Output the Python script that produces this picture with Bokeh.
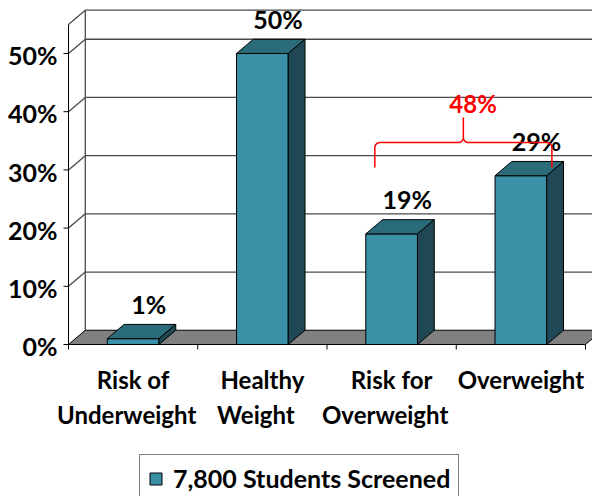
import numpy as np
from bokeh.plotting import figure
from bokeh.models import Range1d, Legend, LegendItem
from bokeh.core.properties import value
from bokeh.embed import file_html
from bokeh.resources import INLINE

# ---------------- data ----------------
cat_line1 = ["Risk of", "Healthy", "Risk for", "Overweight"]
cat_line2 = ["Underweight", "Weight", "Overweight", ""]
values = [1, 50, 19, 29]
value_labels = ["1%", "50%", "19%", "29%"]
y_ticks = [0, 10, 20, 30, 40, 50]
y_tick_labels = ["0%", "10%", "20%", "30%", "40%", "50%"]
axis_max = 55
series_name = "7,800 Students Screened"
brace_from = 2
brace_to = 3
brace_label = "48%"

# ---------------- style / layout ----------------
FONT = "Lato"
FS = "24px"
FS_BIG = "25px"
FRONT = "#3a90a6"
TOP = "#2b6c7a"
SIDE = "#1f4854"
FLOOR = "#808080"
GRID = "#4a4a4a"
DX = 0.13      # depth offset (category units)
DY = 2.45      # depth offset (percent units)
HALF = 0.2     # half bar width
PX_X = 129.25  # pixels per category
PX_Y = 5.82    # pixels per percent

n = len(values)
W, H = 592, 496
AXIS_X = 68    # pixel column of the front value axis
ZERO_Y = 344   # pixel row of 0%
x_start = -AXIS_X / PX_X
x_end = (W - AXIS_X) / PX_X
y_end = ZERO_Y / PX_Y
y_start = -(H - ZERO_Y) / PX_Y
ADJ = 9 / PX_Y  # baseline correction for alphabetic texts

p = figure(width=W, height=H, x_range=Range1d(x_start, x_end), y_range=Range1d(y_start, y_end),
           output_backend="svg", toolbar_location=None,
           x_axis_type=None, y_axis_type=None,
           min_border_left=0, min_border_right=0, min_border_top=0, min_border_bottom=0)
p.outline_line_color = None
p.background_fill_color = "white"
p.border_fill_color = "white"

right_x = n + DX + 0.2

# back wall top border and back-left vertical edge
p.segment(x0=[DX, DX], y0=[axis_max + DY, DY], x1=[right_x, DX], y1=[axis_max + DY, axis_max + DY],
          line_color=GRID, line_width=1.3)
# left wall top diagonal
p.segment(x0=[0], y0=[axis_max], x1=[DX], y1=[axis_max + DY], line_color=GRID, line_width=1.3)

# gridlines: diagonal on left wall + horizontal on back wall
gt = [t for t in y_ticks if t > 0]
p.segment(x0=[0] * len(gt), y0=gt, x1=[DX] * len(gt), y1=[t + DY for t in gt],
          line_color=GRID, line_width=1.3)
p.segment(x0=[DX] * len(gt), y0=[t + DY for t in gt], x1=[right_x] * len(gt),
          y1=[t + DY for t in gt], line_color=GRID, line_width=1.3)

# floor
p.patch(x=[0, n, n + DX, DX], y=[0, 0, DY, DY], fill_color=FLOOR,
        line_color="black", line_width=1)

# front value axis: line, ticks, labels
p.segment(x0=[0], y0=[0], x1=[0], y1=[axis_max], line_color="black", line_width=1)
ytick_len = 5 / PX_X
p.segment(x0=[-ytick_len] * len(y_ticks), y0=y_ticks, x1=[0] * len(y_ticks), y1=y_ticks,
          line_color="black", line_width=1)
p.text(x=[-11 / PX_X] * len(y_ticks), y=[t - 0.3 for t in y_ticks], text=y_tick_labels,
       text_font=value(FONT), text_font_style="bold", text_font_size=FS_BIG,
       text_align="right", text_baseline="middle", text_color="black")

# category tick marks below the floor front edge
tick_len = 5 / PX_Y
p.segment(x0=list(range(n + 1)), y0=[0] * (n + 1), x1=list(range(n + 1)),
          y1=[-tick_len] * (n + 1), line_color="black", line_width=1)

# bars
centers = [i + 0.5 for i in range(n)]
front = p.quad(left=[c - HALF for c in centers], right=[c + HALF for c in centers],
               bottom=[0] * n, top=values, fill_color=FRONT, line_color="black", line_width=1)
top_xs = [[c - HALF, c + HALF, c + HALF + DX, c - HALF + DX] for c in centers]
top_ys = [[v, v, v + DY, v + DY] for v in values]
p.patches(xs=top_xs, ys=top_ys, fill_color=TOP, line_color="black", line_width=1)
side_xs = [[c + HALF, c + HALF + DX, c + HALF + DX, c + HALF] for c in centers]
side_ys = [[0, DY, v + DY, v] for v in values]
p.patches(xs=side_xs, ys=side_ys, fill_color=SIDE, line_color="black", line_width=1)

# value labels
p.text(x=[c + 0.12 for c in centers], y=[v + 4.4 + ADJ for v in values], text=value_labels,
       text_font=value(FONT), text_font_style="bold", text_font_size=FS_BIG,
       text_align="center", text_baseline="alphabetic", text_color="black")

# category labels (two lines)
line1_y = -44 / PX_Y + ADJ
line2_y = -79 / PX_Y + ADJ
p.text(x=centers, y=[line1_y] * n, text=cat_line1, text_font=value(FONT),
       text_font_style="bold", text_font_size=FS, text_align="center",
       text_baseline="alphabetic", text_color="black")
p.text(x=[c - 0.05 for c in centers], y=[line2_y] * n, text=cat_line2, text_font=value(FONT),
       text_font_style="bold", text_font_size=FS, text_align="center",
       text_baseline="alphabetic", text_color="black")

# red brace
L = brace_from + 0.5 - 0.13
R = brace_to + 0.5 + 0.24
M = (L + R) / 2
b = values[brace_to] + 1.4
a = b + 4.3
pk = a + 4.3
rx, ry = 5 / PX_X, 5 / PX_Y


def arc(cx, cy, t0, t1, k=8):
    t = np.radians(np.linspace(t0, t1, k))
    return list(cx + rx * np.cos(t)), list(cy + ry * np.sin(t))


bx, by = [L], [b]
for seg in (arc(L + rx, a - ry, 180, 90), arc(M - rx, a + ry, 270, 360)):
    bx += seg[0]; by += seg[1]
bx += [M, M]; by += [pk, a + ry]
for seg in (arc(M + rx, a + ry, 180, 270), arc(R - rx, a - ry, 90, 0)):
    bx += seg[0]; by += seg[1]
bx += [R]; by += [b]
p.line(x=bx, y=by, line_color="red", line_width=1.5)
p.text(x=[M + 0.075], y=[pk + 0.9 + ADJ], text=[brace_label], text_font=value(FONT),
       text_font_style="bold", text_font_size=FS, text_color="red",
       text_align="center", text_baseline="alphabetic")

legend = Legend(items=[LegendItem(label=series_name, renderers=[front])],
                location=(139, -6), orientation="vertical",
                glyph_width=15, glyph_height=15, label_standoff=10, padding=8, margin=0,
                border_line_color="black", border_line_width=1,
                label_text_font=FONT, label_text_font_style="bold",
                label_text_font_size=FS_BIG, label_text_color="black")
p.add_layout(legend)

open("out.html", "w").write(file_html(p, INLINE))
